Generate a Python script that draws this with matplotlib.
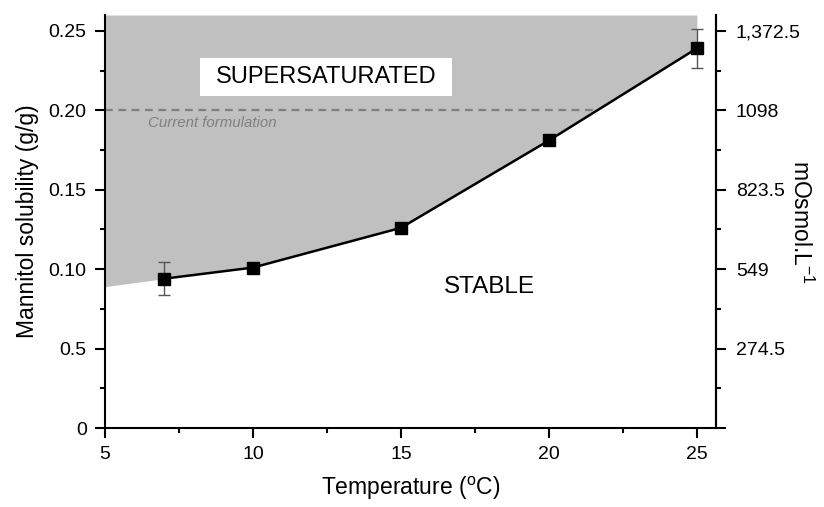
import matplotlib
matplotlib.use("Agg")
import matplotlib.pyplot as plt
from matplotlib.ticker import MultipleLocator, FixedLocator
from matplotlib.patches import Rectangle

plt.rcParams['font.family'] = ['Liberation Sans', 'DejaVu Sans']
plt.rcParams['mathtext.fontset'] = 'custom'
plt.rcParams['mathtext.rm'] = 'Liberation Sans'

temps = [7, 10, 15, 20, 25]
solubility = [0.094, 0.101, 0.126, 0.181, 0.239]
err = [0.0105, 0.0, 0.0, 0.0, 0.0123]
fill_start = (5, 0.089)
formulation = 0.20
formulation_end = 21.5

left_ticks = [0, 0.05, 0.10, 0.15, 0.20, 0.25]
left_labels = ['0', '0.5', '0.10', '0.15', '0.20', '0.25']
right_labels = ['', '274.5', '549', '823.5', '1098', '1,372.5']
x_ticks = [5, 10, 15, 20, 25]

fig = plt.figure(figsize=(8.24, 5.07), dpi=100)
ax = fig.add_axes([0.1274, 0.1558, 0.869 - 0.1274, 0.9704 - 0.1558])
xlim = (5, 25.65)
ylim = (0, 0.26)
ax.set_xlim(*xlim)
ax.set_ylim(*ylim)

# supersaturated region
fx = [fill_start[0]] + temps
fy = [fill_start[1]] + solubility
ax.fill_between(fx, fy, ylim[1], color='#c0c0c0', linewidth=0, zorder=1)

ax.plot([xlim[0], formulation_end], [formulation, formulation], ls=(0, (3.5, 2.5)),
        color='#808080', lw=1.6, zorder=2)
ax.text(6.45, 0.1965, 'Current formulation', style='italic', color='#808080',
        fontsize=10.8, va='top', ha='left', zorder=3)

ax.plot(temps, solubility, color='black', lw=1.8, zorder=4)
ax.errorbar(temps, solubility, yerr=err, fmt='none', ecolor='#555555',
            elinewidth=1.0, capsize=4, capthick=1.0, zorder=5)
ax.plot(temps, solubility, ls='none', marker='s', ms=8.5, color='black', zorder=6)

# label box
ax.add_patch(Rectangle((8.21, 0.2092), 16.72 - 8.21, 0.2330 - 0.2092,
                       facecolor='white', edgecolor='none', zorder=7))
ax.text(12.47, 0.2212, 'SUPERSATURATED', fontsize=17, ha='center', va='center',
        zorder=8)
ax.text(18.0, 0.089, 'STABLE', fontsize=17.5, ha='center', va='center', zorder=8)

ax.spines['top'].set_visible(False)
for s in ['left', 'bottom', 'right']:
    ax.spines[s].set_linewidth(1.5)

ax.xaxis.set_major_locator(FixedLocator(x_ticks))
ax.xaxis.set_minor_locator(MultipleLocator(2.5))
ax.yaxis.set_major_locator(FixedLocator(left_ticks))
ax.set_yticklabels(left_labels)
ax.yaxis.set_minor_locator(MultipleLocator(0.025))
ax.tick_params(axis='both', which='major', direction='out', length=7.2, width=1.5,
               labelsize=14, pad=6)
ax.tick_params(axis='both', which='minor', direction='out', length=3.8, width=1.5)

ax.set_xlabel('Temperature ($\\mathregular{^{o}}$C)', fontsize=16.5, labelpad=8)
ax.set_ylabel('Mannitol solubility (g/g)', fontsize=16.5, labelpad=7)

ax2 = ax.twinx()
ax2.set_ylim(*ylim)
ax2.yaxis.set_major_locator(FixedLocator(left_ticks))
ax2.set_yticklabels(right_labels)
ax2.yaxis.set_minor_locator(MultipleLocator(0.025))
ax2.tick_params(axis='y', which='major', direction='out', length=7.2, width=1.5,
                labelsize=14, pad=7)
ax2.tick_params(axis='y', which='minor', direction='out', length=3.8, width=1.5)
for s in ['top', 'left', 'bottom']:
    ax2.spines[s].set_visible(False)
ax2.spines['right'].set_linewidth(1.5)
ax2.set_ylabel('mOsmol.L$\\mathregular{^{-1}}$', fontsize=16.5, rotation=270,
               labelpad=9)

fig.savefig('out.png', dpi=100)
